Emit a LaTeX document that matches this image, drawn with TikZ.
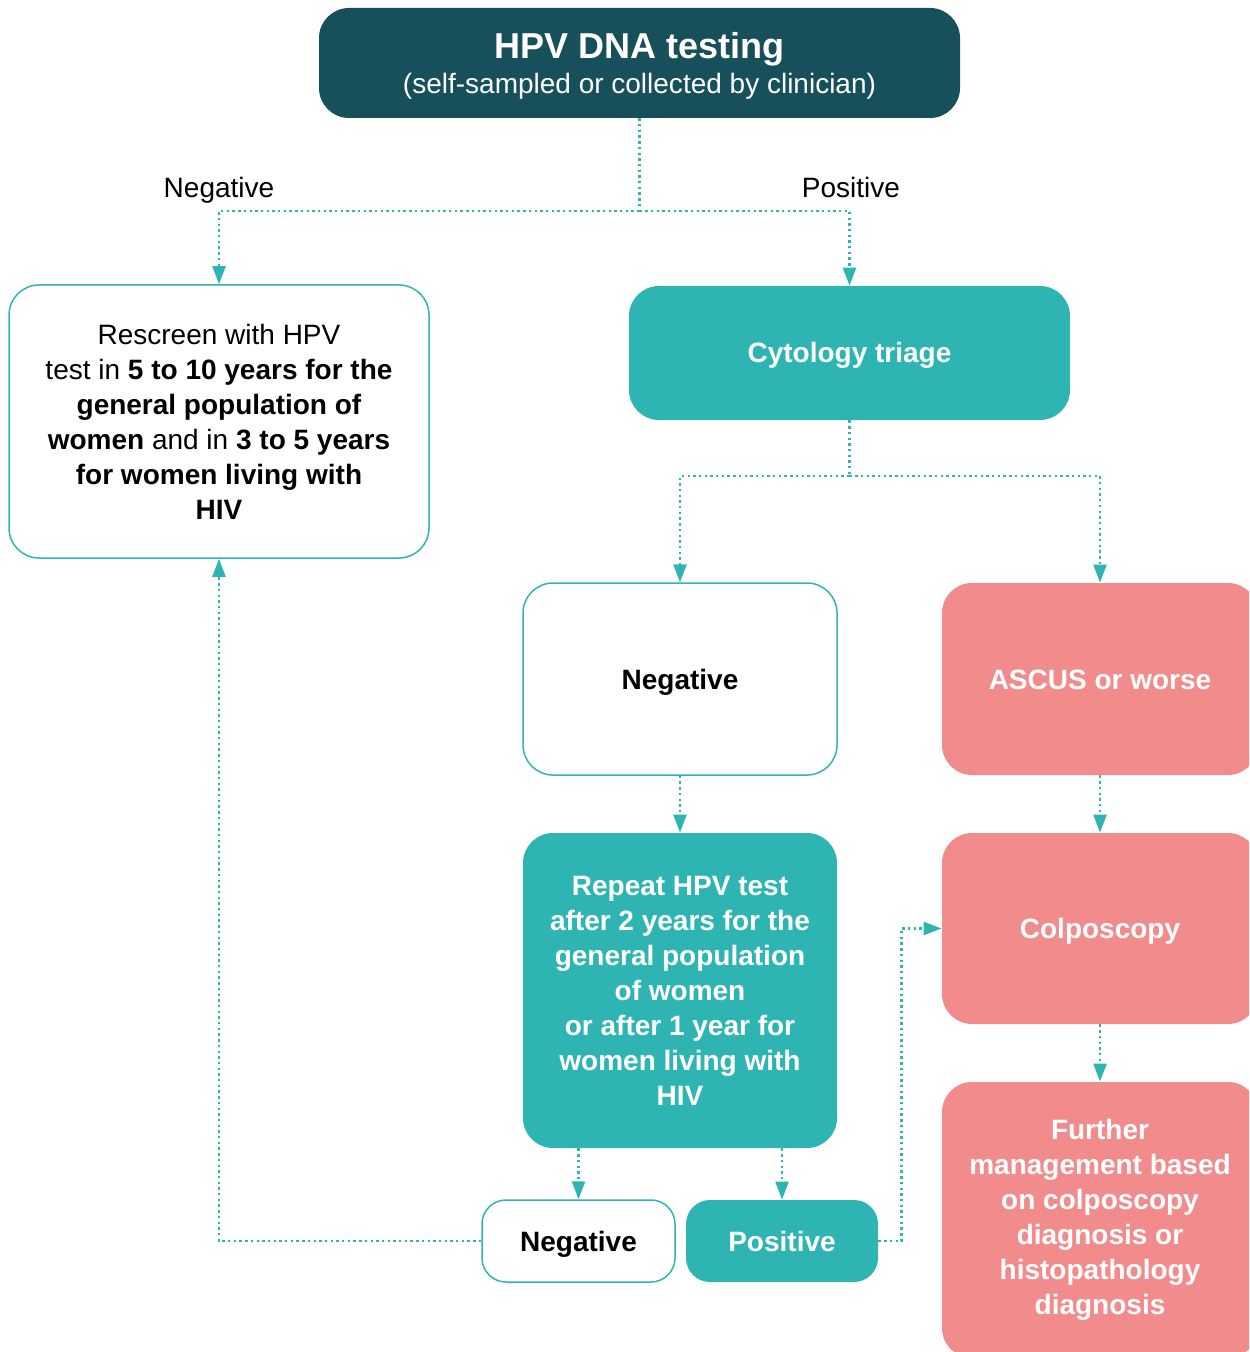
\documentclass[tikz,border=0pt]{standalone}
\usepackage{fontspec}
\setmainfont{Liberation Sans}
\usetikzlibrary{arrows.meta}
\definecolor{hpvdark}{HTML}{174F5B}
\definecolor{hpvteal}{HTML}{2EB5B3}
\definecolor{hpvpink}{HTML}{F28B8C}
\tikzset{
  box/.style={rounded corners=15pt, align=center, inner sep=2pt,
    font=\fontsize{14}{17.5}\selectfont},
  whitebox/.style={box, draw=hpvteal, line width=0.75pt, fill=white, text=black},
  tealbox/.style={box, fill=hpvteal, text=white, font=\fontsize{14}{17.5}\selectfont\bfseries},
  pinkbox/.style={box, fill=hpvpink, text=white, font=\fontsize{14}{17.5}\selectfont\bfseries},
  oneline/.style={text height=10pt, text depth=0pt},
  link/.style={hpvteal, line width=1.2pt, dash pattern=on 1.2pt off 1.65pt},
  linkarrow/.style={link, -{Triangle[length=9pt,width=6.5pt]}},
  lbl/.style={font=\fontsize{14}{17}\selectfont, text=black, anchor=base}
}
\begin{document}
\begin{tikzpicture}[x=0.5pt, y=-0.5pt]
    \useasboundingbox (0,0) rectangle (1249,1352);
    \clip (0,0) rectangle (1249,1352);
    % Top box
    \node[box, fill=hpvdark, text=white, text depth=0pt, minimum width=320.5pt, minimum height=55pt]
      (hpvtest) at (639.5,63)
      {{\fontsize{18}{22}\selectfont\bfseries HPV DNA testing}\\(self-sampled or collected by clinician)};
    % Labels
    \node[lbl] (lblneg) at (219,198) {Negative};
    \node[lbl] (lblpos) at (851,198) {Positive};
    % First level
    \node[whitebox, minimum width=210pt, minimum height=136.5pt] (rescreen) at (219,421.5)
      {Rescreen with HPV\\ test in \textbf{5 to 10 years for the}\\ \textbf{general population of}\\
       \textbf{women} and in \textbf{3 to 5 years}\\ \textbf{for women living with}\\ \textbf{HIV}};
    \node[tealbox, oneline, minimum width=220.5pt, minimum height=67pt] (cyto) at (849.5,353) {Cytology triage};
    % Second level
    \node[whitebox, oneline, minimum width=157pt, minimum height=96pt, font=\fontsize{14}{17.5}\selectfont\bfseries]
      (cytoneg) at (680,679) {Negative};
    \node[pinkbox, oneline, minimum width=158pt, minimum height=96pt] (ascus) at (1100,679) {ASCUS or worse};
    % Third level
    \node[tealbox, minimum width=157pt, minimum height=157.5pt] (repeat) at (680,990.5)
      {Repeat HPV test\\ after 2 years for the\\ general population\\ of women\\ or after 1 year for\\ women living with\\ HIV};
    \node[pinkbox, oneline, minimum width=158pt, minimum height=95.5pt] (colpo) at (1100,928.5) {Colposcopy};
    \node[pinkbox, minimum width=158pt, minimum height=138pt] (further) at (1100,1220)
      {Further\\ management based\\ on colposcopy\\ diagnosis or\\ histopathology\\ diagnosis};
    % Repeat results
    \node[whitebox, oneline, rounded corners=12pt, minimum width=96.5pt, minimum height=41pt,
      font=\fontsize{14}{17.5}\selectfont\bfseries] (repneg) at (578.5,1241) {Negative};
    \node[tealbox, oneline, rounded corners=12pt, minimum width=96pt, minimum height=41pt] (reppos) at (782,1241) {Positive};
    % Connectors
    \coordinate (split1) at (hpvtest.south |- 0,211);
    \draw[link] (hpvtest.south) -- (split1);
    \draw[linkarrow] (split1) -| (rescreen.north);
    \draw[linkarrow] (split1) -| (cyto.north);
    \coordinate (split2) at (cyto.south |- 0,476);
    \draw[link] (cyto.south) -- (split2);
    \draw[linkarrow] (split2) -| (cytoneg.north);
    \draw[linkarrow] (split2) -| (ascus.north);
    \draw[linkarrow] (cytoneg.south) -- (repeat.north);
    \draw[linkarrow] (ascus.south) -- (colpo.north);
    \draw[linkarrow] (colpo.south) -- (further.north);
    \draw[linkarrow] (repneg.north |- repeat.south) -- (repneg.north);
    \draw[linkarrow] (reppos.north |- repeat.south) -- (reppos.north);
    \draw[linkarrow] (repneg.west) -| (rescreen.south);
    \draw[linkarrow] (reppos.east) -- ++(23,0) |- (colpo.west);
\end{tikzpicture}
\end{document}
